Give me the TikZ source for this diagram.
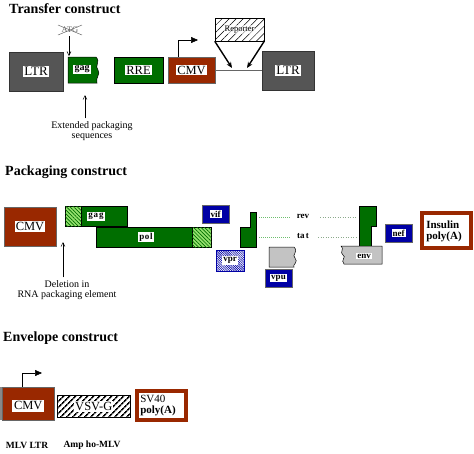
\documentclass[tikz,border=0pt]{standalone}
\usepackage{fontspec}
\setmainfont{Liberation Serif}
\usetikzlibrary{patterns,patterns.meta,arrows.meta}
\definecolor{ltrgray}{RGB}{85,85,85}
\definecolor{gfill}{RGB}{0,110,0}
\definecolor{brn}{RGB}{153,40,0}
\definecolor{blu}{RGB}{0,0,165}
\definecolor{lgray}{RGB}{195,195,195}
\definecolor{lgreen}{RGB}{150,225,110}
\definecolor{dotg}{RGB}{110,190,110}
\definecolor{dotr}{RGB}{140,170,140}
\newcommand{\fsz}[1]{\fontsize{#1}{#1}\selectfont}
\begin{document}
\begin{tikzpicture}[x=1pt,y=-1pt,
  sz/.style 2 args={minimum width=#1pt,minimum height=#2pt},
  ttl/.style={anchor=west,inner sep=0pt,font=\fsz{14}\bfseries},
  ltrbox/.style={fill=ltrgray,draw=black!80,line width=0.5pt,inner sep=0pt},
  grbox/.style={fill=gfill,draw=black,line width=0.5pt,inner sep=0pt},
  brbox/.style={fill=brn,draw=black!60,line width=0.5pt,inner sep=0pt},
  bluebox/.style={fill=blu,draw=black!60,line width=0.4pt,inner sep=0pt},
  polybox/.style={fill=white,draw=brn,line width=4pt,inner sep=0pt},
  lab/.style={fill=white,inner sep=1.2pt},
  small/.style={font=\fsz{9}\bfseries},
  hatchg/.style={fill=lgreen,draw=black,line width=0.5pt,inner sep=0pt,
    postaction={pattern={Lines[angle=-45,distance=2.6pt,line width=0.7pt]},pattern color=gfill}},
  note/.style={font=\fsz{10},align=center,inner sep=0pt},
  barb/.style={-{Straight Barb[length=4pt,width=4pt]},line width=0.5pt},
  prom/.style={-{Triangle[length=7pt,width=6pt]},line width=0.5pt},
  dots/.style={dash pattern=on 1pt off 1pt,line width=0.6pt,dotg},
  dotsr/.style={dash pattern=on 1pt off 1.5pt,line width=0.6pt,dotr}]
\useasboundingbox (0,0) rectangle (474,453);

% ---------------- Transfer construct
\node[ttl] (t1) at (9,9) {Transfer construct};
\node[ltrbox,sz={54}{39}] (ltr1) at (36,71.5) {};
\node[lab,font=\fsz{13}] (ltr1l) at (ltr1) {LTR};
\draw[fill=gfill,line width=0.5pt] (68,57) -- (96,57) .. controls (101,62) and (94,66) .. (98,70)
  .. controls (101,74) and (95,78) .. (97,83) -- (68,83) -- cycle;
\node[lab,font=\fsz{10}\bfseries] (gag1) at (82,69.5) {gag};
\node[font=\fsz{8.5},text=black!60,inner sep=0pt] (atg) at (70,30) {ATG};
\draw[black!60,line width=0.5pt] ([shift={(-12,-5)}]atg.center) -- ([shift={(12,5)}]atg.center);
\draw[black!60,line width=0.5pt] ([shift={(-12,5)}]atg.center) -- ([shift={(12,-5)}]atg.center);
\coordinate (gagtop) at (69,56);
\draw[barb] ([yshift=-3pt]atg.south -| gagtop) -- (gagtop);
\node[note] (ext) at (92,131) {Extended packaging\\sequences};
\coordinate (extp) at (85,95);
\draw[barb] ([yshift=3pt]ext.north -| extp) -- (extp);
\node[grbox,sz={49}{26}] (rre) at (138.5,70) {};
\node[lab,font=\fsz{12.5}] (rrel) at (rre) {RRE};
\node[brbox,sz={47}{26}] (cmv1) at (191.5,70) {};
\node[lab,font=\fsz{12.5}] (cmv1l) at (cmv1) {CMV};
\coordinate (p1) at (178,40);
\draw[prom] (cmv1.north -| p1) -- (p1) -- ++(20,0);
\node[ltrbox,sz={52}{39}] (ltr2) at (288,70.5) {};
\node[lab,font=\fsz{13}] (ltr2l) at (ltr2) {LTR};
\draw[black!60,line width=0.8pt] (cmv1.east) -- (cmv1.east -| ltr2.west);
\node[draw,line width=0.5pt,fill=white,inner sep=0pt,sz={49}{23},
  postaction={pattern={Lines[angle=45,distance=5pt,line width=0.5pt]},pattern color=black}] (rep) at (239.5,29.5) {};
\node[font=\fsz{8.5},inner sep=0.5pt,fill=white,fill opacity=0.6,text opacity=1] (repl) at (rep) {Reporter};
\coordinate (ia) at (232,68);
\coordinate (ib) at (247,68);
\draw[-{Stealth[length=6pt,width=5pt]},line width=1.4pt] (rep.south west) -- (ia);
\draw[-{Stealth[length=6pt,width=5pt]},line width=1.4pt] (rep.south east) -- (ib);

% ---------------- Packaging construct
\node[ttl] (t2) at (5,172) {Packaging construct};
\node[brbox,sz={52}{39}] (cmv2) at (30,226.5) {};
\node[lab,font=\fsz{12.5}] (cmv2l) at (cmv2) {CMV};
\node[grbox,sz={62}{20},anchor=north west] (gag2) at (65,206) {};
\node[hatchg,sz={16}{20},anchor=north west] (gag2h) at (gag2.north west) {};
\node[lab,small] (gag2l) at (96,216) {g\kern1pt a\kern1pt g};
\node[grbox,sz={115}{20},anchor=north west] (pol) at (96,227) {};
\node[hatchg,sz={19}{20},anchor=north east] (polh) at (pol.north east) {};
\node[lab,small] (poll) at (146,237) {p\kern0.5pt o\kern0.5pt l};
\node[note] (del) at (67,290) {Deletion in\\RNA packaging element};
\coordinate (delp) at (63,242);
\draw[barb] ([yshift=3pt]del.north -| delp) -- (delp);
\node[bluebox,sz={27}{18}] (vif) at (215.5,214) {};
\node[lab,small,inner sep=1pt] (vifl) at (vif) {vif};
\node[draw=blu,line width=0.5pt,fill=white,inner sep=0pt,sz={28}{21},
  postaction={pattern={Lines[angle=-45,distance=1.6pt,line width=0.6pt]},pattern color=blu}] (vpr) at (230,260.5) {};
\node[lab,small,inner sep=1pt] (vprl) at (vpr) {vpr};
\draw[fill=gfill,line width=0.5pt] (250,212) -- (256,212) -- (256,247) -- (240,247) -- (240,227) -- (250,227) -- cycle;
\draw[fill=lgray,line width=0.5pt] (269,247) -- (294,247) .. controls (299,252) and (291,255) .. (295,258)
  .. controls (299,262) and (292,265) .. (294,267) -- (269,267) -- cycle;
\node[bluebox,sz={27}{18}] (vpu) at (278.5,278) {};
\node[lab,small,inner sep=1pt] (vpul) at (vpu) {vpu};
\node[small,inner sep=0pt] (rev) at (303,216) {rev};
\node[small,inner sep=0pt] (tat) at (303,236) {ta\kern1.5pt t};
\coordinate (rl) at (259,217);
\coordinate (rr) at (357,217);
\coordinate (tl) at (259,237);
\coordinate (tr) at (357,237);
\draw[dots] (rl) -- (rl -| 290,0);
\draw[dotsr] (rr -| 320,0) -- (rr);
\draw[dots] (tl) -- (tl -| 290,0);
\draw[dotsr] (tr -| 318,0) -- (tr);
\draw[fill=gfill,line width=0.5pt] (359,206) -- (376,206) -- (376,226) -- (371,226) -- (371,247) -- (359,247) -- cycle;
\draw[fill=lgray,line width=0.5pt] (341,246) -- (382,246) -- (382,264) -- (344,264) .. controls (340,260) and (347,257) .. (343,255)
  .. controls (339,252) and (345,249) .. (341,246) -- cycle;
\node[lab,small,inner sep=1pt] (envl) at (364,256) {env};
\node[bluebox,sz={27}{18}] (nef) at (398.5,233) {};
\node[lab,small,inner sep=1pt] (nefl) at (nef) {nef};
\node[polybox,sz={49}{35}] (ins) at (446.5,230.5) {};
\node[font=\fsz{11}\bfseries,align=left,inner sep=0pt] (insl) at (444,231) {Insulin\\poly(A)};

% ---------------- Envelope construct
\node[ttl] (t3) at (3,338) {Envelope construct};
\node[fill=ltrgray!70,inner sep=0pt,sz={3}{33},anchor=north west] (mlv) at (0,387) {};
\node[brbox,sz={52}{33},anchor=north west] (cmv3) at (2,387) {};
\node[lab,font=\fsz{12.5},inner sep=2pt] (cmv3l) at ([yshift=-2pt]cmv3.center) {CMV};
\coordinate (p3) at (22,373);
\draw[prom] (cmv3.north -| p3) -- (p3) -- ++(20,0);
\node[draw,line width=0.5pt,fill=white,inner sep=0pt,sz={73}{22},anchor=north west,
  postaction={pattern={Lines[angle=45,distance=4pt,line width=1.7pt]},pattern color=black}] (vsv) at (57,395) {};
\node[lab,font=\fsz{12.5}] (vsvl) at (vsv) {VSV-G};
\node[polybox,sz={49}{29},anchor=north west] (sv40) at (135,389) {};
\node[align=left,inner sep=0pt,font=\fsz{11}] (sv40l) at (158,406) {SV40\\\textbf{poly(A)}};
\node[font=\fsz{9.5}\bfseries,inner sep=0pt] (mlvl) at (27,445) {MLV LTR};
\node[font=\fsz{9.5}\bfseries,inner sep=0pt] (ampl) at (92,445) {Amp ho-MLV};
\end{tikzpicture}
\end{document}
